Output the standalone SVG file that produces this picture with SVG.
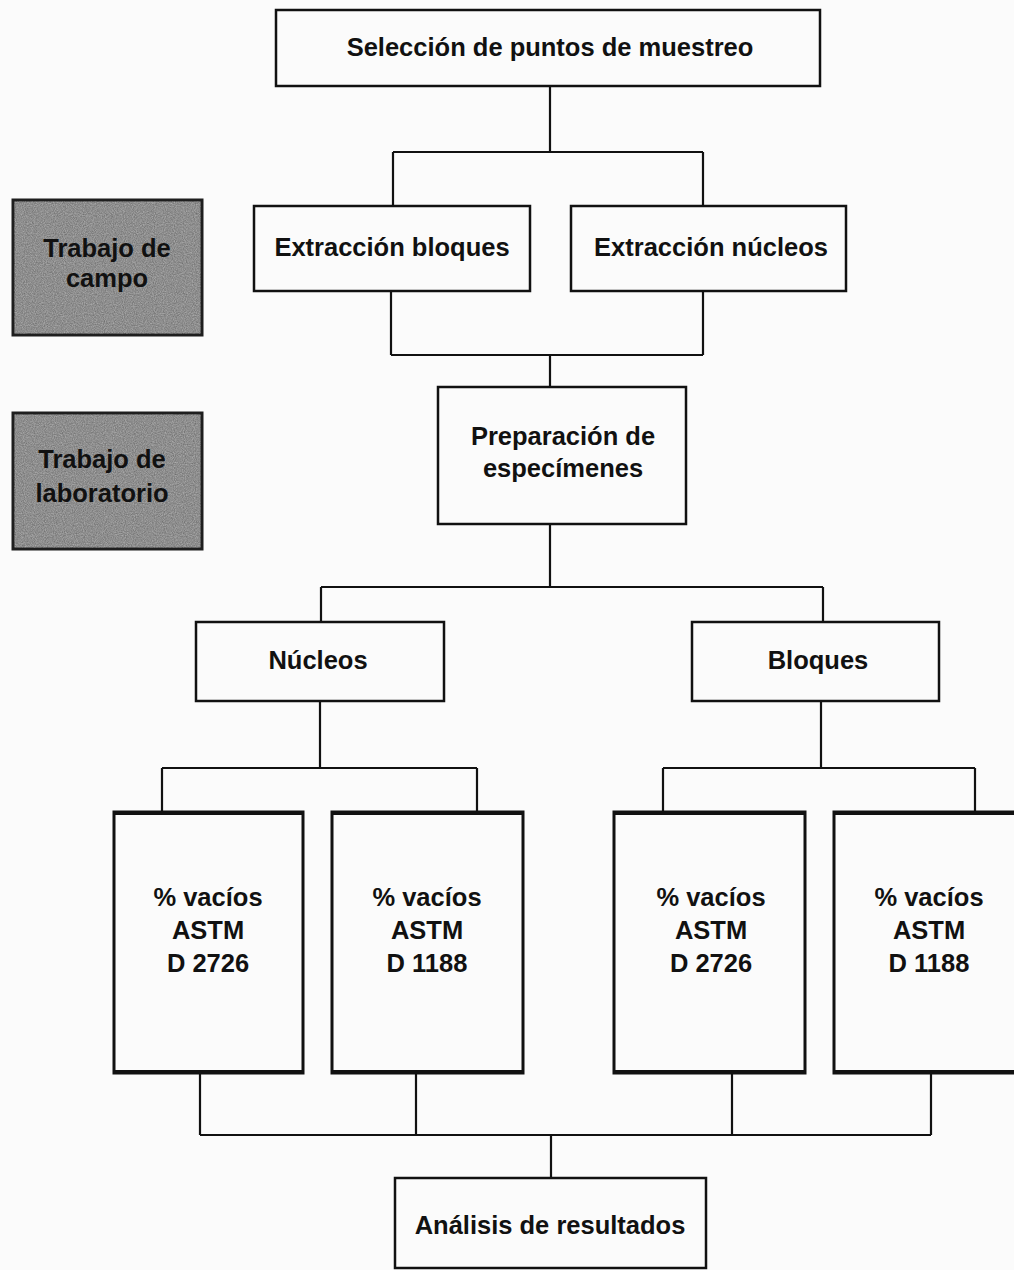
<svg xmlns="http://www.w3.org/2000/svg" width="1014" height="1270" viewBox="0 0 1014 1270">
<defs>
<filter id="grain" x="0" y="0" width="100%" height="100%">
<feTurbulence type="fractalNoise" baseFrequency="0.9" numOctaves="2" seed="3" result="n"/>
<feColorMatrix in="n" type="matrix" values="0 0 0 0 0.42  0 0 0 0 0.42  0 0 0 0 0.42  0 0 0 -1.2 1.1" result="g"/>
<feComposite in="g" in2="SourceGraphic" operator="in"/>
</filter>
</defs>
<style>
.box{fill:#fbfbfb;stroke:#111;stroke-width:2.5}
.tall{fill:#fbfbfb;stroke:#111;stroke-width:3}
.edge{fill:#111}
.dark{fill:#6e6e6e;stroke:#1e1e1e;stroke-width:3}
.ln{fill:none;stroke:#111;stroke-width:2.2}
text{font-family:"Liberation Sans",Arial,sans-serif;font-weight:bold;font-size:25.5px;fill:#111;text-anchor:middle}
</style>
<rect width="1014" height="1270" fill="#fbfbfb"/>

<g id="connectors">
<path class="ln" d="M550 86 V152 M393 152 H703 M393 152 V206 M703 152 V206"/>
<path class="ln" d="M391 291 V355 M703 291 V355 M391 355 H703 M550 355 V387"/>
<path class="ln" d="M550 524 V587 M321 587 H823 M321 587 V622 M823 587 V622"/>
<path class="ln" d="M320 701 V768 M162 768 H477 M162 768 V812 M477 768 V812"/>
<path class="ln" d="M821 701 V768 M663 768 H975 M663 768 V812 M975 768 V812"/>
<path class="ln" d="M200 1073 V1135 M416 1073 V1135 M732 1073 V1135 M931 1073 V1135 M200 1135 H931 M551 1135 V1178"/>
</g>

<g id="n-seleccion">
<rect class="box" x="276" y="10" width="544" height="76"/>
<text x="550" y="56">Selección de puntos de muestreo</text>
</g>

<g id="n-campo">
<rect class="dark" x="13" y="200" width="189" height="135"/>
<rect x="14.5" y="201.5" width="186" height="132" filter="url(#grain)" fill="#6e6e6e"/>
<text x="107" y="257">Trabajo de</text>
<text x="107" y="287">campo</text>
</g>

<g id="n-ext-bloques">
<rect class="box" x="254" y="206" width="276" height="85"/>
<text x="392" y="256">Extracción bloques</text>
</g>

<g id="n-ext-nucleos">
<rect class="box" x="571" y="206" width="275" height="85"/>
<text x="711" y="256">Extracción núcleos</text>
</g>

<g id="n-lab">
<rect class="dark" x="13" y="413" width="189" height="136"/>
<rect x="14.5" y="414.5" width="186" height="133" filter="url(#grain)" fill="#6e6e6e"/>
<text x="102" y="468">Trabajo de</text>
<text x="102" y="502">laboratorio</text>
</g>

<g id="n-preparacion">
<rect class="box" x="438" y="387" width="248" height="137"/>
<text x="563" y="445">Preparación de</text>
<text x="563" y="477">especímenes</text>
</g>

<g id="n-nucleos">
<rect class="box" x="196" y="622" width="248" height="79"/>
<text x="318" y="669">Núcleos</text>
</g>

<g id="n-bloques">
<rect class="box" x="692" y="622" width="247" height="79"/>
<text x="818" y="669">Bloques</text>
</g>

<g id="n-n2726">
<rect class="tall" x="114" y="812" width="189" height="261"/>
<rect class="edge" x="113" y="811" width="191" height="4"/>
<rect class="edge" x="113" y="1070" width="191" height="4"/>
<text x="208" y="906">% vacíos</text>
<text x="208" y="939">ASTM</text>
<text x="208" y="972">D 2726</text>
</g>

<g id="n-n1188">
<rect class="tall" x="332" y="812" width="191" height="261"/>
<rect class="edge" x="331" y="811" width="193" height="4"/>
<rect class="edge" x="331" y="1070" width="193" height="4"/>
<text x="427" y="906">% vacíos</text>
<text x="427" y="939">ASTM</text>
<text x="427" y="972">D 1188</text>
</g>

<g id="n-b2726">
<rect class="tall" x="614" y="812" width="191" height="261"/>
<rect class="edge" x="613" y="811" width="193" height="4"/>
<rect class="edge" x="613" y="1070" width="193" height="4"/>
<text x="711" y="906">% vacíos</text>
<text x="711" y="939">ASTM</text>
<text x="711" y="972">D 2726</text>
</g>

<g id="n-b1188">
<rect class="tall" x="834" y="812" width="192" height="261"/>
<rect class="edge" x="833" y="811" width="194" height="4"/>
<rect class="edge" x="833" y="1070" width="194" height="4"/>
<text x="929" y="906">% vacíos</text>
<text x="929" y="939">ASTM</text>
<text x="929" y="972">D 1188</text>
</g>

<g id="n-analisis">
<rect class="box" x="395" y="1178" width="311" height="90"/>
<text x="550" y="1234">Análisis de resultados</text>
</g>
</svg>
